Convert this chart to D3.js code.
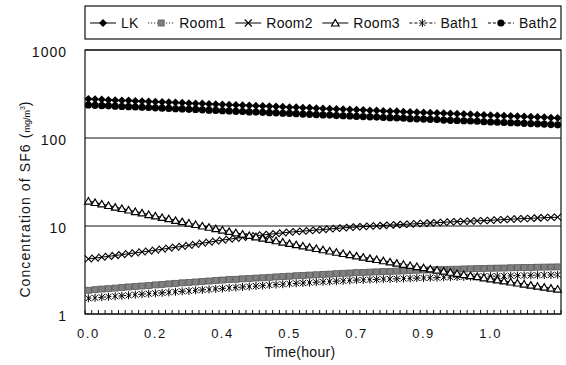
<!DOCTYPE html>
<html>
<head>
<meta charset="utf-8">
<script src="https://cdn.jsdelivr.net/npm/d3@7"></script>
<style>
  body { margin: 0; background: #fff; }
  text { font-family: "Liberation Sans", Arial, sans-serif; fill: #111; }
</style>
</head>
<body>
<div id="chart"></div>
<script>
// Time points (one every minute) and the labelled ones on the x axis
const timeIndex = d3.range(71);
const xTickLabels = ["0.0", "0.2", "0.4", "0.5", "0.7", "0.9", "1.0"];
const xTickEvery = 10;
const yTicks = [1, 10, 100, 1000];

const seriesNames = ["LK", "Room1", "Room2", "Room3", "Bath1", "Bath2"];

const lkValues = [277,275,273,271,269,267,266,264,262,260,
  258,256,254,253,251,249,247,246,244,242,
  241,239,237,236,234,232,231,229,228,226,
  224,223,221,220,218,216,215,214,212,211,
  209,208,206,205,203,202,201,199,198,196,
  195,194,192,191,190,188,187,186,184,183,
  181,180,179,178,177,175,174,173,172,170,169];

const room1Values = [1.86,1.89,1.92,1.94,1.97,2.00,2.03,2.06,2.08,2.11,
  2.14,2.17,2.20,2.23,2.26,2.28,2.31,2.34,2.37,2.40,
  2.43,2.46,2.48,2.51,2.53,2.56,2.58,2.61,2.64,2.66,
  2.69,2.72,2.74,2.77,2.79,2.82,2.84,2.87,2.90,2.92,
  2.95,2.97,2.99,3.01,3.03,3.05,3.07,3.09,3.12,3.14,
  3.16,3.17,3.19,3.20,3.22,3.23,3.25,3.26,3.28,3.29,
  3.31,3.32,3.33,3.35,3.36,3.37,3.38,3.40,3.41,3.42,3.43];

const room2Values = [4.22,4.32,4.42,4.52,4.62,4.73,4.84,4.96,5.07,5.19,
  5.31,5.45,5.59,5.74,5.88,6.03,6.20,6.37,6.55,6.73,
  6.92,7.09,7.25,7.42,7.59,7.76,7.91,8.05,8.20,8.36,
  8.51,8.63,8.75,8.87,9.00,9.12,9.25,9.38,9.51,9.64,
  9.77,9.86,9.95,10.04,10.13,10.23,10.33,10.42,10.52,10.62,
  10.72,10.82,10.92,11.02,11.12,11.22,11.30,11.38,11.45,11.53,
  11.61,11.72,11.83,11.94,12.05,12.16,12.24,12.33,12.42,12.50,12.59];

const room3Values = [19.2,18.5,17.8,17.1,16.4,15.8,15.2,14.6,14.1,13.5,
  13.0,12.5,12.1,11.6,11.2,10.8,10.4,10.0,9.68,9.33,
  9.00,8.69,8.38,8.09,7.81,7.54,7.28,7.04,6.80,6.57,
  6.35,6.14,5.93,5.74,5.55,5.37,5.20,5.03,4.87,4.72,
  4.57,4.43,4.29,4.16,4.03,3.91,3.79,3.67,3.56,3.46,
  3.36,3.26,3.16,3.07,2.98,2.89,2.81,2.73,2.66,2.58,
  2.51,2.44,2.38,2.31,2.25,2.19,2.13,2.07,2.02,1.97,1.92];

const bath1Values = [1.51,1.53,1.55,1.57,1.59,1.61,1.63,1.66,1.68,1.70,
  1.72,1.74,1.76,1.79,1.81,1.83,1.86,1.88,1.90,1.93,
  1.95,1.98,2.00,2.03,2.05,2.08,2.10,2.13,2.16,2.18,
  2.21,2.23,2.25,2.27,2.30,2.32,2.34,2.36,2.38,2.41,
  2.43,2.44,2.46,2.47,2.49,2.50,2.51,2.53,2.54,2.56,
  2.57,2.58,2.59,2.61,2.62,2.63,2.64,2.65,2.67,2.68,
  2.69,2.70,2.71,2.72,2.73,2.74,2.75,2.76,2.77,2.78,2.79];

const bath2Values = [237,235,233,232,230,228,227,225,223,222,
  220,218,217,215,214,212,211,209,207,206,
  204,203,201,200,198,197,196,194,193,191,
  190,189,187,186,184,183,182,180,179,178,
  176,175,174,173,171,170,169,168,166,165,
  164,163,162,160,159,158,157,156,155,153,
  152,151,150,149,148,147,146,145,144,142,141];

const seriesValues = [lkValues, room1Values, room2Values, room3Values, bath1Values, bath2Values];

// Line dash and marker per series
const styles = [
  { dash: null, marker: "diamond" },
  { dash: "1,2", marker: "square" },
  { dash: null, marker: "cross" },
  { dash: null, marker: "triangle" },
  { dash: "3,2", marker: "star" },
  { dash: "3,2", marker: "circle" }
];

const W = 566, H = 365;
const plot = { left: 85, right: 561, top: 50, bottom: 314 };

const svg = d3.select("#chart").append("svg")
  .attr("width", W)
  .attr("height", H);

const x = d3.scaleBand().domain(timeIndex).range([plot.left, plot.right]);
const y = d3.scaleLog().domain([1, 1000]).range([plot.bottom, plot.top]);
const cx = i => x(i) + x.bandwidth() / 2;

// gridlines at each decade
svg.append("g").selectAll("line")
  .data(yTicks)
  .enter().append("line")
  .attr("x1", plot.left).attr("x2", plot.right)
  .attr("y1", d => y(d)).attr("y2", d => y(d))
  .attr("stroke", "#111").attr("stroke-width", 1);

// plot frame
svg.append("rect")
  .attr("x", plot.left).attr("y", plot.top)
  .attr("width", plot.right - plot.left)
  .attr("height", plot.bottom - plot.top)
  .attr("fill", "none").attr("stroke", "#111").attr("stroke-width", 1.2);

// small ticks on the category boundaries, pointing up
const edges = timeIndex.map(i => x(i)).concat([plot.right]);
svg.append("g").selectAll("line")
  .data(edges)
  .enter().append("line")
  .attr("x1", d => d).attr("x2", d => d)
  .attr("y1", plot.bottom).attr("y2", plot.bottom - 4)
  .attr("stroke", "#111").attr("stroke-width", 1);

// y labels
svg.append("g").selectAll("text")
  .data(yTicks)
  .enter().append("text")
  .attr("x", 67)
  .attr("y", d => y(d) + 2)
  .attr("text-anchor", "end")
  .attr("dominant-baseline", "central")
  .style("font-size", "14px")
  .style("letter-spacing", "1px")
  .text(d => d);

// x labels every 10 points
svg.append("g").selectAll("text")
  .data(xTickLabels)
  .enter().append("text")
  .attr("x", (d, k) => cx(k * xTickEvery))
  .attr("y", 338)
  .attr("text-anchor", "middle")
  .style("font-size", "13px")
  .style("letter-spacing", "1.5px")
  .text(d => d);

svg.append("text")
  .attr("x", 300).attr("y", 357)
  .attr("text-anchor", "middle")
  .style("font-size", "14px")
  .style("letter-spacing", "0.3px")
  .text("Time(hour)");

const yTitle = svg.append("text")
  .attr("transform", "translate(30,199) rotate(-90)")
  .attr("text-anchor", "middle")
  .style("font-size", "14px")
  .style("letter-spacing", "1.1px");
yTitle.append("tspan").text("Concentration of SF6 (");
yTitle.append("tspan").style("font-size", "9px").style("letter-spacing", "0px").text("mg/m");
yTitle.append("tspan").style("font-size", "7px").attr("dy", -5).style("letter-spacing", "0px").text("3");
yTitle.append("tspan").attr("dy", 5).text(")");

// marker drawing
function drawMarker(g, type, px, py) {
  if (type === "diamond") {
    g.append("path").attr("d", `M${px},${py - 4}L${px + 4},${py}L${px},${py + 4}L${px - 4},${py}Z`)
      .attr("fill", "#000");
  } else if (type === "circle") {
    g.append("circle").attr("cx", px).attr("cy", py).attr("r", 3.6).attr("fill", "#000");
  } else if (type === "triangle") {
    g.append("path").attr("d", `M${px},${py - 3.5}L${px + 3.8},${py + 3}L${px - 3.8},${py + 3}Z`)
      .attr("fill", "#fff").attr("stroke", "#000").attr("stroke-width", 1.2);
  } else if (type === "square") {
    g.append("rect").attr("x", px - 3).attr("y", py - 3).attr("width", 6).attr("height", 6)
      .attr("fill", "#808080").attr("stroke", "#555").attr("stroke-width", 0.8);
  } else if (type === "cross") {
    g.append("path").attr("d", `M${px - 3.5},${py - 3.5}L${px + 3.5},${py + 3.5}M${px - 3.5},${py + 3.5}L${px + 3.5},${py - 3.5}`)
      .attr("stroke", "#000").attr("stroke-width", 1.1);
  } else if (type === "star") {
    g.append("path").attr("d", `M${px - 3},${py - 3}L${px + 3},${py + 3}M${px - 3},${py + 3}L${px + 3},${py - 3}M${px},${py - 4}L${px},${py + 4}`)
      .attr("stroke", "#000").attr("stroke-width", 1);
  }
}

const line = d3.line().x((d, i) => cx(i)).y(d => y(d));

// draw the low series first so the top ones sit above
const order = [1, 4, 2, 3, 5, 0];
order.forEach(s => {
  const g = svg.append("g").attr("class", "series-" + seriesNames[s]);
  g.append("path")
    .datum(seriesValues[s])
    .attr("d", line)
    .attr("fill", "none")
    .attr("stroke", "#000")
    .attr("stroke-width", 1)
    .attr("stroke-dasharray", styles[s].dash);
  seriesValues[s].forEach((v, i) => drawMarker(g, styles[s].marker, cx(i), y(v)));
});

// legend box
svg.append("rect")
  .attr("x", plot.left).attr("y", 6)
  .attr("width", plot.right - plot.left).attr("height", 33)
  .attr("fill", "#fff").attr("stroke", "#111").attr("stroke-width", 1.2);

// lay entries out left to right, spreading spare room into the gaps
const sampleW = 26, textGap = 5;
const legendItems = seriesNames.map((name, s) => {
  const g = svg.append("g");
  const t = g.append("text")
    .attr("y", 28)
    .style("font-size", "14px")
    .style("letter-spacing", "0.3px")
    .text(name);
  return { g, t, s, w: t.node().getComputedTextLength() };
});
const startX = 90, endX = 557;
const used = d3.sum(legendItems, d => sampleW + textGap + d.w);
const gap = (endX - startX - used) / (legendItems.length - 1);
let lx = startX;
legendItems.forEach(d => {
  d.g.insert("line", "text")
    .attr("x1", lx).attr("x2", lx + sampleW)
    .attr("y1", 23).attr("y2", 23)
    .attr("stroke", "#000").attr("stroke-width", 1)
    .attr("stroke-dasharray", styles[d.s].dash);
  drawMarker(d.g, styles[d.s].marker, lx + sampleW / 2, 23);
  d.t.attr("x", lx + sampleW + textGap);
  lx += sampleW + textGap + d.w + gap;
});
</script>
</body>
</html>
